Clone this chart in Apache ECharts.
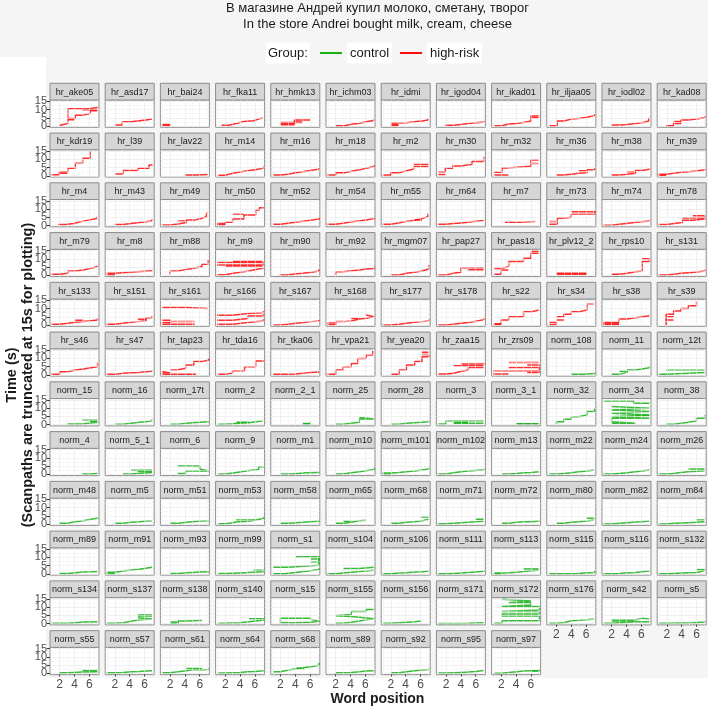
<!DOCTYPE html>
<html><head><meta charset="utf-8">
<script src="https://cdn.jsdelivr.net/npm/echarts@6/dist/echarts.min.js"></script>
<style>html,body{margin:0;padding:0;background:#fff}#c{width:708px;height:708px}</style>
</head><body><div id="c"></div>
<script>
const titleLines = ['В магазине Андрей купил молоко, сметану, творог', 'In the store Andrei bought milk, cream, cheese'];
const groupNames = ['control', 'high-risk'];
const xTicks = [2, 4, 6];
const yTicks = [0, 5, 10, 15];
const xMinor = [1, 3, 5, 7];
const yMinor = [2.5, 7.5, 12.5];
const xTitle = 'Word position';
const yTitle = ['Time (s)', '(Scanpaths are truncated at 15s for plotting)'];

const participants = [
 'hr_ake05','hr_asd17','hr_bai24','hr_fka11','hr_hmk13','hr_ichm03','hr_idmi','hr_igod04','hr_ikad01','hr_iljaa05','hr_iodl02','hr_kad08',
 'hr_kdr19','hr_l39','hr_lav22','hr_m14','hr_m16','hr_m18','hr_m2','hr_m30','hr_m32','hr_m36','hr_m38','hr_m39',
 'hr_m4','hr_m43','hr_m49','hr_m50','hr_m52','hr_m54','hr_m55','hr_m64','hr_m7','hr_m73','hr_m74','hr_m78',
 'hr_m79','hr_m8','hr_m88','hr_m9','hr_m90','hr_m92','hr_mgm07','hr_pap27','hr_pas18','hr_plv12_2','hr_rps10','hr_s131',
 'hr_s133','hr_s151','hr_s161','hr_s166','hr_s167','hr_s168','hr_s177','hr_s178','hr_s22','hr_s34','hr_s38','hr_s39',
 'hr_s46','hr_s47','hr_tap23','hr_tda16','hr_tka06','hr_vpa21','hr_yea20','hr_zaa15','hr_zrs09','norm_108','norm_11','norm_12t',
 'norm_15','norm_16','norm_17t','norm_2','norm_2_1','norm_25','norm_28','norm_3','norm_3_1','norm_32','norm_34','norm_38',
 'norm_4','norm_5_1','norm_6','norm_9','norm_m1','norm_m10','norm_m101','norm_m102','norm_m13','norm_m22','norm_m24','norm_m26',
 'norm_m48','norm_m5','norm_m51','norm_m53','norm_m58','norm_m65','norm_m68','norm_m71','norm_m72','norm_m80','norm_m82','norm_m84',
 'norm_m89','norm_m91','norm_m93','norm_m99','norm_s1','norm_s104','norm_s106','norm_s111','norm_s113','norm_s115','norm_s116','norm_s132',
 'norm_s134','norm_s137','norm_s138','norm_s140','norm_s15','norm_s155','norm_s156','norm_s171','norm_s172','norm_s176','norm_s42','norm_s5',
 'norm_s55','norm_s57','norm_s61','norm_s64','norm_s68','norm_s89','norm_s92','norm_s95','norm_s97'
];

// Each panel: list of scanpaths; each scanpath: [word position, time (s)] points (drawn as steps)
const pathsRow01 = [
 [[[1.95,0.3],[1.95,1.5],[3.1,4.5],[4.1,6.6],[5.1,7.6],[6.1,9.3],[7.1,9.3]],[[3.1,4.5],[3.1,10.5],[5,10.5],[6,11.2],[7.1,11.8]],[[3.1,3.8],[4,3.8]],[[5,9.8],[7.1,9.8]]],
 [[[2,0.6],[3,2.6],[4.2,3.2],[5.3,3.7],[6.2,4.2],[7,4.6]]],
 [[[0.9,0.4],[2,0.4]],[[0.9,0.9],[2,0.9]]],
 [[[1.5,0.5],[2.5,1.5],[3.5,2.7],[4.5,3.2],[5.8,4.2],[6.5,5],[7.1,5.1]]],
 [[[2,0.8],[3.8,0.8],[3.8,2.5],[5,2.5]],[[2,1.6],[3.9,1.6],[3.9,3.6],[6,3.6]],[[2,2.2],[5,2.2]]],
 [[[2,0.2],[3.2,1.2],[4.3,1.6],[5.1,2.6],[6.1,3.3],[7.1,4.0]]],
 [[[2,0.3],[3.1,0.3]],[[2,1.0],[3.1,1.0]],[[2,1.8],[3.1,2.0],[4.1,2.6],[5.1,3.1],[6.2,3.6],[7,4.6]]],
 [[[1.9,0.5],[3,1],[4,1.5],[5,2],[6,2.5],[7.1,3.1]]],
 [[[1,0.2],[2.1,1.2],[3,1.6],[4.1,2.2],[5,3.0],[6,6.1],[7.1,6.1]],[[6,5.2],[7.1,5.2]]],
 [[[1.06,0.2],[2.1,3.0],[3,4.2],[4,4.6],[5,5.3],[6.1,6.3],[7.1,7.1]]],
 [[[2,0.6],[3,1.0],[4.1,1.6],[5.2,2.0],[6.1,3.0],[7,5.0]]],
 [[[1.9,0.2],[2.9,1.6],[3.9,3.6],[4.9,4.2],[6,5],[7.1,6]],[[2.9,2.8],[3.9,2.8]]]
];
const pathsRow02 = [
 [[[0.9,0.6],[1.95,2.5],[3.1,4.6],[4.1,7.6],[5.1,10.6],[6.1,15]],[[1.95,1.6],[3.1,1.6]]],
 [[[2,1.1],[3.1,3.2],[5.1,4.6],[6.6,6.6],[7.1,6.6]]],
 [[[4,0.5],[5.5,0.8],[7.1,0.8]]],
 [[[1,0.3],[2,1.5],[3,2.3],[4,3.0],[5,3.6],[6,4.5],[7.1,5.6]]],
 [[[1,0.5],[2,1.0],[3,1.8],[4,2.4],[5,3.2],[6,4.0],[7.1,4.6]]],
 [[[0.9,0.5],[2,1.9],[3.2,2.9],[4.3,3.6],[5.2,4.6],[6.1,5.6],[7.2,6.6]]],
 [[[0.9,0.5],[2,1.9],[3.1,2.9],[4,4.1],[5.1,5.6],[7.1,5.6]],[[5.1,7.0],[7.1,7.0]]],
 [[[0.9,0.8],[1.9,0.8]],[[0.9,2.5],[1.9,4.6],[2.9,6],[4,7],[5.5,8.6],[7.07,11.6]]],
 [[[1,0.5],[3,0.5]],[[1,2.1],[2.1,4.8],[3,5.4],[4.5,5.8],[6,6.5],[6,9.5],[7.1,9.5]],[[6,7.5],[7.1,7.5]]],
 [[[2,0.5],[3,1],[4,1.5],[5,1.9],[6.1,3.6],[7.1,4.6]],[[5,3],[6.1,3]]],
 [[[2,0.5],[3,0.9],[4.1,1.5],[5.2,3.2],[6.1,4.0],[7.1,4.6]],[[4.1,2.5],[5.2,2.5]]],
 [[[0.9,0.3],[1.9,0.3]],[[0.9,1],[1.9,1.5],[2.9,2.1],[3.9,2.5],[4.9,2.9],[6,3.6],[7.1,4.1]]]
];
const pathsRow03 = [
 [[[1.8,0.7],[2.8,1.3],[3.9,2.3],[4.8,3.3],[5.9,4.3],[7,5.4]]],
 [[[2,0.7],[3.1,1.3],[4.2,1.9],[5.3,2.3],[6.2,2.9],[7,3.9]]],
 [[[0.9,0.3],[2,1],[3.1,1.9],[4.2,3.3],[5.3,4.3],[6.2,5.4],[6.9,7.4],[7.1,7.4]],[[3.1,2.8],[4.2,2.8]]],
 [[[0.9,0.5],[2,2],[3,4],[4.5,6.4],[6.1,9.4],[6.6,10.8],[7.2,10.8]],[[3,7],[4.5,7]],[[0.9,1.3],[2,1.3]]],
 [[[1,0.8],[2,1.4],[3,2],[4,2.6],[5,3.2],[6,4],[7.2,4.8]]],
 [[[0.9,0.8],[2,1.4],[3,2.2],[4,2.8],[5,3.4],[6.1,4.2],[7.2,4.8]]],
 [[[0.9,0.8],[2,1.6],[3,2.4],[4,3.2],[5.2,4.2],[6.2,5.4],[7,7.4]],[[5.2,3.4],[6.2,3.4]]],
 [[[0.9,0.8],[2,1.2],[3,1.6],[4,2.0],[5,2.6],[6,3.0],[7.1,3.4]]],
 [[[2.5,2.0],[4.5,2.4],[6.5,2.9]]],
 [[[1,0.8],[2.1,4.4],[3,5.0],[4,7.0],[7.2,8.4],[4,8.4]],[[1,2.4],[2.1,2.4]]],
 [[[0.9,0.2],[2,0.8],[3,1.3],[4,1.8],[5,2.3],[6,2.8],[7.1,3.4]]],
 [[[0.9,0.6],[2,1.2],[3,1.8],[4.1,3.2],[5.5,4.0],[7.1,4.8]],[[4.1,4.6],[7.1,6.0],[5.5,6.0]]]
];
const pathsRow04 = [
 [[[0.9,0.6],[2,1.2],[3.1,2.6],[4.1,3.2],[5.2,4.2],[6.2,5.3],[7.1,5.9]]],
 [[[0.9,0.3],[2,0.3]],[[0.9,1.2],[2,1.6],[3,1.8],[4,2.2],[5,2.5],[6,2.8],[7.1,3.2]]],
 [[[2,0.6],[2,2.6],[3.1,3.6],[4.2,4.2],[5.1,5.3],[6.3,6.7],[7.1,9.3]]],
 [[[0.9,0.3],[2,1.2],[3.1,2],[4.2,2.6],[5.2,3.5],[6.1,4.3],[7.1,4.8]],[[0.9,6.3],[7.1,7.7],[0.9,7.7]],[[2,5.6],[7.1,5.6]],[[3,8.3],[7.1,8.3]]],
 [[[1.9,0.2],[2.8,0.8],[3.9,1.2],[5,1.8],[6.2,2.6],[7.2,3.6]]],
 [[[2,0.2],[2,2.2],[3,2.8],[4.1,3.2],[5.3,3.8],[6.1,4.2],[7.2,5.3]]],
 [[[2,0.2],[3.1,1.2],[4.1,1.8],[5.2,2.6],[6.2,3.8],[7.1,6.3]]],
 [[[0.9,0.2],[2,1.2],[2.9,1.8],[4,4.6],[7.1,4.6]],[[4.9,3.4],[7.1,3.4]]],
 [[[1,0.6],[2,3.2],[3,3.2]],[[1,4.2],[2,5.2],[3,8.3],[5,10.3],[6,13.3],[7.1,13.3]],[[6,14.5],[7.1,14.5]]],
 [[[2,1.2],[6.1,1.2]],[[2,0.7],[4,0.7],[6.1,0.6]]],
 [[[2,0.6],[3,1.2],[4.1,2.2],[5.2,2.6],[6.1,8.3],[7.1,10],[6.1,10]]],
 [[[0.9,0.2],[1.9,0.6],[2.9,1.2],[3.9,1.6],[4.9,2.0],[6,2.6],[7.1,3.6]]]
];
const pathsRow05 = [
 [[[0.9,0.5],[2,1.1],[3.1,1.7],[4.1,2.2],[5.2,2.7],[6.2,3.1],[7.1,4.1]],[[4.1,3.0],[5.2,3.0]]],
 [[[0.9,0.5],[2,1.1],[3.1,1.7],[4.2,2.1],[5.1,2.6],[6.2,4.4],[7,5.5]],[[5.1,3.6],[6.2,3.6]]],
 [[[0.9,10.6],[4.2,10.0],[7.1,10.0]],[[0.9,0.5],[2,3],[0.9,3]],[[0.9,1.5],[2,1.5]],[[2,0.5],[5.3,0.3]],[[2,2.2],[5.3,2.2]]],
 [[[0.9,0.5],[3,1.5],[5,2.5],[7.1,3.5]],[[0.9,3],[3,4],[5,5.5],[7.1,6.5]],[[0.9,6],[3,7],[5,7.5],[7.1,8.5]]],
 [[[1,0.1],[2,0.5],[3,1.1],[4.1,1.5],[5.2,2.1],[6.1,2.5],[7.2,3.1]]],
 [[[0.9,0.2],[2,2.1],[3.1,2.5],[4.1,3.7],[5.2,4.1],[6.1,5.1],[7.2,6.1],[6.1,6.1]],[[0.9,1.2],[2,1.2]],[[4.1,4.0],[5.2,4.0]]],
 [[[0.9,0.1],[2,0.5],[3.1,1.1],[4.1,1.7],[5.2,2.1],[6.2,2.5],[7.1,3.5]]],
 [[[0.9,0.1],[2,0.5],[2.9,1.1],[4,1.7],[5.3,2.5],[6.2,3.3],[7.1,4.1]]],
 [[[1,0.3],[2,3.1],[3,5.1],[5,8.1],[6.1,9.1],[7.1,9.1]],[[1,0.8],[2,0.8]]],
 [[[1,0.3],[2,1.7],[1,1.7]],[[2,3.1],[3,3.1]],[[2,5.1],[3,6.5],[4,8.0],[5,9.1],[6.1,12.6],[7.1,12.6]]],
 [[[0.9,0.3],[3,0.3]],[[0.9,1.7],[3,3.7],[4.1,4.5],[5.2,5.1],[6.1,5.7],[7.1,6.1]],[[0.9,1.0],[3,1.0]]],
 [[[1.9,0.1],[1.9,3.1],[2.9,3.1]],[[1.9,5],[2.9,5]],[[1.9,3.1],[1.9,6.5],[2.9,8.5],[3.9,10.1],[4.9,11.7],[6,14.2]]]
];
const pathsRow06 = [
 [[[0.9,0.3],[2,1.9],[3.1,2.9],[4.1,3.5],[5.2,4.3],[6.2,4.9],[7.1,7.4]]],
 [[[0.9,0.3],[2,0.9],[3.1,1.3],[4.2,1.5],[5.3,1.9],[6.2,2.3],[7,2.9]]],
 [[[0.9,0.3],[5.5,0.3]],[[0.9,1.2],[2,2],[0.9,2]],[[2,3],[2.9,4],[4.1,6],[5.2,8],[6.3,9],[7.2,10]]],
 [[[1,0.3],[2,1.2],[3,2.5],[4.6,4.9],[6.1,8.4],[7.2,8.4]]],
 [[[1,0.3],[2.5,0.5],[4.1,0.9],[5,1.5],[6,1.7],[7.2,1.9]]],
 [[[0.9,0.3],[2,2.9],[3,4.9],[4.1,6.9],[5,9.9],[6.1,12],[7,14.4]]],
 [[[2,0.3],[3.1,2.9],[4.1,6],[5.2,8],[6.2,11],[7.1,12.3],[6.2,12.3]],[[6.2,13.6],[7.1,13.6]]],
 [[[0.9,0.5],[2,1],[3,2],[4,3],[5,4.5],[7.1,4.5]],[[3,5.5],[7.1,5.5]],[[4,6.5],[7.1,7.3]]],
 [[[0.9,2.5],[7.1,2.5]],[[3,4.5],[7.1,4.5]],[[3,7.5],[7.1,7.5]],[[5.5,1.5],[7.1,6],[5.5,6]],[[0.9,0.5],[3,0.5]]],
 [[[4,0.3],[5.5,0.8],[7.2,1.2]]],
 [[[2,0.3],[3,1.5],[4.1,2.9],[5.2,3.5],[6.1,4.3],[7.1,5.3]],[[3,2.2],[4.1,2.2]]],
 [[[0.9,0.3],[1.9,1.5],[7.1,1.5]],[[1.9,2.8],[7.1,2.8]]]
];
const pathsRow07 = [
 [[[3,0.4],[5,1.4],[7.1,1.4]],[[5,2.6],[7.1,2.6]],[[6,2],[7.1,2]]],
 [[[2,0.2],[3.1,0.8],[4.2,1.4],[5.3,1.8],[6.2,2.4],[7,3.2]]],
 [[[2,0.2],[3.1,0.8],[4.2,1.2],[5.1,1.4],[6,1.8],[7.2,2.2]]],
 [[[1,0.2],[2,0.5],[3,1],[4.5,1.2],[5.2,1.7],[6.2,2.3],[7.1,2.5]],[[3.5,1.4],[5.2,1.4]]],
 [[[5,0.3],[6.1,0.3]],[[5,0.7],[6.1,0.7]]],
 [[[2,0.2],[3,0.8],[4.1,1.4],[5.2,3.4],[7.2,4.3],[5.2,4.3]]],
 [[[2,0.2],[3.1,0.8],[4.1,1.2],[5.2,1.4],[6.2,1.8],[7.1,2.4]]],
 [[[0.9,0.3],[2,2.4],[7.1,2.4]],[[3,0.8],[7.1,0.8]],[[3,1.3],[5,1.3]]],
 [[[4,0.3],[7.1,0.3]],[[4,0.6],[7.1,0.6]]],
 [[[2,0.2],[2,1.8],[3,3.2],[4,4.8],[5,5.8],[6.1,7.9],[7.1,9.9]]],
 [[[0.9,14.3],[5,12.9],[7.1,12.9]],[[2,0.8],[5.2,1.8],[2,1.8],[2,3.8],[7.1,4.8],[2,4.8],[2,5.8],[7.1,6.8],[2,6.8],[2,7.9],[7.1,8.9],[2,8.9],[2,9.9],[7.1,10.9],[2,10.9]],[[5.2,5.5],[7.1,5.5]]],
 [[[1.9,0.2],[2.9,0.8],[3.9,1.4],[4.9,2.4],[6,3.8],[7.1,5.8]]]
];
const pathsRow08 = [
 [[[5,0.2],[6,0.6],[7.1,0.8]]],
 [[[3.1,0.2],[4.2,1.2],[7,1.2]],[[4.2,2.5],[7,2.5]],[[5,1.8],[7,1.8]]],
 [[[3,0.6],[4.1,2],[7.2,2],[7.2,3.2],[6,3.2],[6,5.1],[3,5.1],[3,4.7],[6,4.7]]],
 [[[1,0.3],[2,0.8],[3,1.5],[4,2.2],[5,2.6],[5.8,3.0],[6.5,4.6],[7.2,4.6]]],
 [[[2,0.2],[3.3,0.6],[4.4,1.0],[5.5,1.2],[7.2,1.6]]],
 [[[2,0.2],[3,1],[4.1,1.6],[5.2,2.2],[6.1,3],[7.2,4]]],
 [[[0.9,0.2],[2,0.2]],[[0.9,0.9],[2,1.2],[3.1,1.6],[4.1,2.0],[5.2,2.6],[6.2,3.2],[7.1,4]]],
 [[[0.9,0.2],[2,1],[3,1.6],[4,2],[5,2.4],[6,2.8],[7.1,3.4]]],
 [[[2.1,0.2],[3,0.6],[4.1,1.0],[5,1.2],[6.1,1.6],[7.1,2]]],
 [[[1,0.2],[2,0.6],[3,1.0],[4,1.6],[5,2.0],[6.1,2.6],[7.1,3]]],
 [[[0.9,0.2],[2,0.6],[3,1.0],[4.1,1.6],[5.2,2.0],[6.1,2.6],[7.1,3]]],
 [[[0.9,0.2],[1.9,0.6],[2.9,1.2],[3.9,1.6],[4.9,2.2],[7.1,2.2]],[[4.9,3.2],[7.1,3.2]]]
];
const pathsRow09 = [
 [[[1.95,0.5],[3,1.5],[4.1,2.1],[5.2,2.9],[6.2,3.5],[7.1,4.1]]],
 [[[2,0.5],[3.1,1.1],[4.2,1.5],[5.3,1.9],[6.2,2.1],[7,2.5]]],
 [[[2,0.5],[3.1,1.1],[4.2,1.5],[5.1,1.9],[6,2.1],[7.2,2.5]]],
 [[[1,0.3],[2,0.8],[3,1.3],[3.45,1.8],[5,2.4],[6,3.5],[7.2,4.5]],[[3.45,2.5],[6,2.5]]],
 [[[2,0.5],[3,0.9],[4.1,1.1],[5,1.5],[6.1,1.9],[7.2,2.5]]],
 [[[2,0.5],[3,1.1],[4.1,2.1],[5.2,2.3],[6.1,2.5]],[[3,1.8],[4.1,1.8]]],
 [[[2,0.5],[3.1,1.1],[4.1,1.5],[5.2,1.9],[6.1,3.0],[7.1,3.0]],[[6.1,4.3],[7.1,4.3]]],
 [[[0.9,0.3],[2,0.6],[3,0.9],[4,1.2],[5,1.5],[6,1.8],[7.1,2.2]],[[6,3.0],[7.1,3.0]]],
 [[[2.1,0.5],[3,1.1],[4.1,1.5],[5,1.5],[6.1,1.9],[7.1,2.5]]],
 [[[2,0.5],[3,1.1],[4,1.5],[5,1.9],[6.1,2.5],[7.1,2.5]],[[6.1,3.5],[7.1,3.5]]],
 [[[0.9,0.1],[2,0.5],[3,0.9],[4.1,1.3],[5.2,1.5],[6.1,1.9],[7.1,2.1]]],
 [[[0.9,0.1],[1.9,0.5],[2.9,0.7],[3.9,0.9],[4.9,1.1],[6,1.5],[7.1,1.5]],[[6,2.5],[7.1,2.5]]]
];
const pathsRow10 = [
 [[[1.95,0.3],[3,0.7],[4.1,1.1],[5.2,1.3],[6.2,1.5],[7.1,1.7]]],
 [[[0.9,0.2],[2,0.2]],[[0.9,1.0],[2,1.7],[3.1,2.4],[4.2,2.8],[5.3,3.4],[6.2,4],[7,4.2]]],
 [[[2,0.3],[3.1,0.7],[4.2,0.9],[5.1,1.1],[6,1.3],[7.2,1.7]]],
 [[[1,0.2],[2,0.4],[3,0.6],[4,0.8],[5,1.0],[5.8,1.3],[7.2,1.3]],[[5.8,2.2],[7.2,2.2]]],
 [[[1,0.1],[2.5,0.8],[4,1.6],[5.5,2.6],[7.2,3.4]],[[1,4.0],[3,4.6],[5,5.2],[7.2,6.4],[7.2,9.0],[6.1,9.0]],[[4.1,10.4],[7.2,7.4],[6.1,7.4]]],
 [[[0.9,0.1],[2,0.6],[3,1.2],[4.5,1.8],[6,2.2],[7.2,2.6]],[[3,3.2],[5.2,4.0],[7.2,4.0]]],
 [[[0.9,0.1],[2,0.5],[3.1,0.7],[4.1,1.1],[5.2,1.3],[6.2,1.7],[7.1,2.4]]],
 [[[0.9,0.1],[2,0.3],[3,0.5],[4,0.8],[5,1.2],[6,1.6],[7.1,2.4]]],
 [[[1,0.1],[2.1,0.1]],[[1,0.6],[2.1,0.7],[3,1],[4.1,1.4],[5,2.4],[7.1,2.4]],[[5,3],[7.1,3]]],
 [[[1,0.1],[3,0.3],[5,0.7],[6.1,0.9],[7.1,1.7]]],
 [[[0.9,0.1],[2,0.3],[3,0.7],[4.1,0.9],[5.2,1.3],[6.1,1.7],[7.1,2.4]]],
 [[[0.9,0.1],[1.9,0.3],[2.9,0.5],[3.9,0.7],[4.9,0.9],[6,2.1],[7.1,2.8]],[[6,2.6],[7.1,2.6]]]
];
const pathsRow11 = [
 [[[0.9,0.2],[3,0.6],[4.1,1.0],[5.2,1.2],[7.1,1.4]]],
 [[[0.9,0.2],[2,0.6],[3.1,1.4],[4.2,2.2],[5.1,2.8],[7,3.6],[5.1,3.6]],[[5.1,4.6],[7,4.6]],[[5.1,5.2],[7,5.2]]],
 [[[2,0.3],[3.1,1.6],[4.2,1.8],[5.1,2.0],[6.3,2.2]],[[2,1.0],[3.1,1.0]]],
 [[[1,0.2],[2,0.4],[3,0.6],[4,1.2],[5.2,2.2],[7.2,3.2]],[[5.2,2.9],[7.2,2.9]]],
 [[[2,0.6],[4,0.8],[6.1,1.5],[7.2,2.6],[6.1,2.6]],[[2,0.6],[2,3.2],[6.1,3.2]]],
 [[[2,0.2],[3,0.8],[4.1,1.6],[5.2,2.4],[6.1,3.0],[7.2,4.2],[4.5,4.2],[4.5,4.8],[2,4.8],[2,5.6],[4.1,7.3],[6.1,8.6],[7.2,8.8]]],
 [[[0.9,0.2],[2,0.6],[3.1,0.8],[4.1,1.2],[5.2,1.6],[6.1,1.8]]],
 [[[0.9,0.1],[3,0.3],[5,0.6],[7.1,1.0]]],
 [[[1,0.2],[2.1,1.8],[7.1,1.8],[7.1,4.6],[2.1,4.6],[2.1,5.9],[7.1,7.3],[2.1,7.3],[2.1,8.3],[7.1,10.3],[2.1,10.3],[2.1,11.3],[6,12.7],[3,12.7],[3,13.7],[6,14.7],[2.1,14.7]]],
 [[[1,0.2],[2,0.6],[3,1.8],[4,2.0],[5,2.4],[6.1,2.8],[7.1,3.2]]],
 [[[0.9,0.2],[2,0.8],[4,1.2],[5.2,1.2],[7.1,1.6]],[[2,2.4],[4,2.4],[5.2,3.2],[6.1,2.6],[7.1,2.6]],[[2,1.6],[5.2,1.6]]],
 [[[0.9,0.2],[2.5,0.4],[4,0.6],[5.5,1.0],[7.1,1.6]]]
];
const pathsRow12 = [
 [[[1.95,0.4],[3,0.6],[4,0.8],[5,1.0],[7.1,1.0]],[[5,1.8],[7.1,1.8]]],
 [[[0.9,0.4],[2,0.6],[3.1,1.0],[4.2,1.2],[5.3,1.4],[6.2,1.6],[7,2]]],
 [[[0.9,0.4],[2,1],[3.1,1.6],[4.2,2.4],[5.2,2.2],[6.3,2.4],[7.2,3]],[[4.2,3.0],[6.3,3.0]]],
 [[[1,0.2],[2,0.4],[3,0.6],[4,1.0],[5,1.2],[6,1.6],[7.2,2]]],
 [[[1,1],[2,2],[3.1,3],[4.2,3.6],[5.2,4],[6.1,5],[7.2,6.4]],[[4.2,3.0],[5.2,3.0]]],
 [[[2,0.4],[3,0.6],[4.1,1.0],[5.2,1.4],[6.1,1.6],[7.2,2]]],
 [[[2,0.4],[3.1,1.0],[4.1,1.6],[5.2,2.0],[6.2,2.4],[7.1,3]]],
 [[[0.9,0.2],[2,0.4],[3,0.6],[4,0.8],[5,1.2],[6,1.8],[7.1,2]]],
 [[[1,0.1],[2,0.6],[3,1.0],[4.1,1.4],[5,1.6],[6,1.6],[7.1,2.6]],[[6,1.4],[7.1,1.4]]]
];

const panelPaths = [].concat(pathsRow01, pathsRow02, pathsRow03, pathsRow04, pathsRow05, pathsRow06,
  pathsRow07, pathsRow08, pathsRow09, pathsRow10, pathsRow11, pathsRow12);

// ---------- layout & style ----------
const FONT = 'Liberation Sans, Arial, Helvetica, sans-serif';
const NCOL = 12;
const LAY = { left0: 50, colPitch: 55.2, top0: 83.3, rowPitch: 49.76, stripH: 16.7, panelW: 49, plotH: 27.3 };
const COLORS = { 'control': '#14b014', 'high-risk': '#ff0a0a' };
const BORDER = '#8c8c8c';
const X_RANGE = [0.7, 7.3], Y_RANGE = [-0.75, 15.75];

const grids = [], xAxes = [], yAxes = [], extraY = [], series = [], graphics = [];

graphics.push({ type: 'rect', z: -100, silent: true, shape: { x: 0, y: 0, width: 708, height: 57 }, style: { fill: '#f5f5f5' } });
graphics.push({ type: 'rect', z: -100, silent: true, shape: { x: 46, y: 57, width: 662, height: 621 }, style: { fill: '#f5f5f5' } });

function yAxisDef(i, show, values) {
  return { gridIndex: i, type: 'value', min: Y_RANGE[0], max: Y_RANGE[1], position: 'left', offset: 0,
    axisLine: { show: false }, splitLine: { show: false },
    axisTick: { show, customValues: values, length: 3, lineStyle: { color: '#333', width: 1 } },
    axisLabel: { show, customValues: values, fontSize: 11, color: '#4d4d4d', margin: 3, fontFamily: FONT,
      showMinLabel: true, showMaxLabel: true } };
}

participants.forEach((name, i) => {
  const r = Math.floor(i / NCOL), c = i % NCOL;
  const left = LAY.left0 + c * LAY.colPitch;
  const stripTop = LAY.top0 + r * LAY.rowPitch;
  const top = stripTop + LAY.stripH;
  const showX = i + NCOL >= participants.length;
  const showY = c === 0;
  const group = name.startsWith('hr_') ? 'high-risk' : 'control';
  const color = COLORS[group];
  grids.push({ left, top, width: LAY.panelW, height: LAY.plotH, show: true,
    backgroundColor: '#ffffff', borderColor: BORDER, borderWidth: 1 });
  xAxes.push({ gridIndex: i, type: 'value', min: X_RANGE[0], max: X_RANGE[1],
    axisLine: { show: false }, splitLine: { show: false },
    axisTick: { show: showX, customValues: xTicks, length: 3, lineStyle: { color: '#333', width: 1 } },
    axisLabel: { show: showX, customValues: xTicks, fontSize: 12, color: '#4d4d4d', margin: 4, fontFamily: FONT,
      showMinLabel: true, showMaxLabel: true } });
  // tick labels split across two co-located axes so that ECharts keeps all four (they are close together)
  yAxes.push(yAxisDef(i, showY, yTicks.filter((v, k) => k % 2 === 0)));
  if (showY) extraY.push(yAxisDef(i, true, yTicks.filter((v, k) => k % 2 === 1)));
  const gl = [];
  xMinor.forEach(v => gl.push({ xAxis: v, lineStyle: { color: '#f3f3f3', width: 0.5, type: 'solid' } }));
  yMinor.forEach(v => gl.push({ yAxis: v, lineStyle: { color: '#f3f3f3', width: 0.5, type: 'solid' } }));
  xTicks.forEach(v => gl.push({ xAxis: v, lineStyle: { color: '#e8e8e8', width: 0.6, type: 'solid' } }));
  yTicks.forEach(v => gl.push({ yAxis: v, lineStyle: { color: '#e8e8e8', width: 0.6, type: 'solid' } }));
  series.push({ type: 'line', xAxisIndex: i, yAxisIndex: i, data: [[X_RANGE[0], Y_RANGE[0]]], symbol: 'none',
    lineStyle: { opacity: 0 }, silent: true, z: 1, animation: false, legendHoverLink: false,
    markLine: { silent: true, symbol: ['none', 'none'], label: { show: false }, animation: false, data: gl } });
  (panelPaths[i] || []).forEach(path => {
    series.push({ type: 'line', name: group, xAxisIndex: i, yAxisIndex: i, data: path, step: 'end',
      symbol: 'none', showSymbol: false, silent: true, animation: false, z: 3,
      itemStyle: { color }, lineStyle: { color, width: 1.5, opacity: 0.85 } });
  });
  graphics.push({ type: 'rect', silent: true, z: 5,
    shape: { x: left, y: stripTop, width: LAY.panelW, height: LAY.stripH },
    style: { fill: '#d6d6d6', stroke: BORDER, lineWidth: 1 } });
  graphics.push({ type: 'text', silent: true, z: 6, x: left + LAY.panelW / 2, y: stripTop + LAY.stripH / 2 + 0.5,
    style: { text: name, fill: '#1a1a1a', font: '9px ' + FONT, align: 'center', verticalAlign: 'middle',
      textAlign: 'center', textVerticalAlign: 'middle' } });
});

// titles
graphics.push({ type: 'text', silent: true, x: 377.5, y: 8.5, style: { text: titleLines[0], fill: '#1a1a1a', font: '13px ' + FONT, align: 'center', verticalAlign: 'middle', textAlign: 'center', textVerticalAlign: 'middle' } });
graphics.push({ type: 'text', silent: true, x: 377.5, y: 24, style: { text: titleLines[1], fill: '#1a1a1a', font: '13px ' + FONT, align: 'center', verticalAlign: 'middle', textAlign: 'center', textVerticalAlign: 'middle' } });
graphics.push({ type: 'text', silent: true, x: 266, y: 53, style: { text: 'Group:', fill: '#1a1a1a', font: '13px ' + FONT, align: 'left', verticalAlign: 'middle', textAlign: 'left', textVerticalAlign: 'middle', backgroundColor: '#ffffff', padding: [4, 2] } });
graphics.push({ type: 'text', silent: true, x: 377.5, y: 699, style: { text: xTitle, fill: '#1a1a1a', font: 'bold 14px ' + FONT, align: 'center', verticalAlign: 'middle', textAlign: 'center', textVerticalAlign: 'middle' } });
graphics.push({ type: 'text', silent: true, x: 20, y: 375, rotation: Math.PI / 2, style: { text: yTitle.join('\n'), fill: '#1a1a1a', font: 'bold 14.5px ' + FONT, lineHeight: 16, align: 'center', verticalAlign: 'middle', textAlign: 'center', textVerticalAlign: 'middle' } });

const chart = echarts.init(document.getElementById('c'), null, { renderer: 'canvas', width: 708, height: 708 });
chart.setOption({
  backgroundColor: '#ffffff',
  animation: false,
  legend: { data: groupNames, left: 315, top: 37.5, itemWidth: 22, itemHeight: 2, icon: 'rect', itemGap: 8,
    selectedMode: false,
    textStyle: { fontSize: 13, color: '#1a1a1a', fontFamily: FONT, backgroundColor: '#ffffff', padding: [4, 3] } },
  grid: grids, xAxis: xAxes, yAxis: yAxes.concat(extraY), series, graphic: { elements: graphics }
});
</script></body></html>
